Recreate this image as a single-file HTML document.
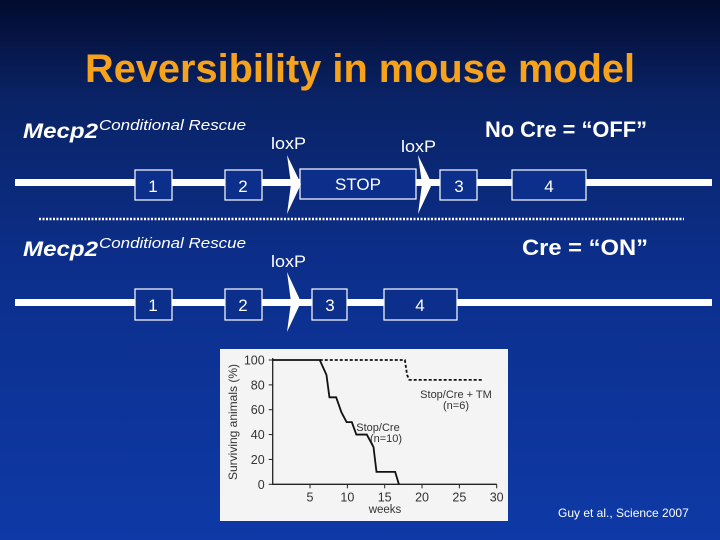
<!DOCTYPE html>
<html><head><meta charset="utf-8"><style>
html,body{margin:0;padding:0;}
body{width:720px;height:540px;overflow:hidden;}
svg{display:block;font-family:"Liberation Sans",Arial,sans-serif;}
</style></head><body>
<svg id="slide" width="720" height="540" viewBox="0 0 720 540" xmlns="http://www.w3.org/2000/svg">
<defs>
<linearGradient id="bg" x1="0" y1="0" x2="0" y2="1">
<stop offset="0" stop-color="#020b2e"/><stop offset="0.18" stop-color="#0a2366"/><stop offset="0.5" stop-color="#0c2f8c"/><stop offset="1" stop-color="#0e39a6"/>
</linearGradient>
</defs>
<rect x="0" y="0" width="720" height="540" fill="url(#bg)"/>
<text x="85" y="82" font-size="40" font-weight="bold" fill="#f7a21b" textLength="550" lengthAdjust="spacingAndGlyphs">Reversibility in mouse model</text>

<g fill="#fff">
<text x="23" y="138" font-size="21" font-style="italic" font-weight="bold" textLength="75" lengthAdjust="spacingAndGlyphs">Mecp2</text>
<text x="99" y="130" font-size="15" font-style="italic" textLength="147" lengthAdjust="spacingAndGlyphs">Conditional Rescue</text>
<text x="485" y="137" font-size="22" font-weight="bold" textLength="162" lengthAdjust="spacingAndGlyphs">No Cre = “OFF”</text>
<text x="271" y="149" font-size="17" textLength="35" lengthAdjust="spacingAndGlyphs">loxP</text>
<text x="401" y="152" font-size="17" textLength="35" lengthAdjust="spacingAndGlyphs">loxP</text>
<rect x="15" y="179" width="697" height="7"/>
<g fill="#0c2f8c" stroke="#fff" stroke-width="1.2">
<rect x="135" y="170" width="37" height="30"/>
<rect x="225" y="170" width="37" height="30"/>
<rect x="300" y="169" width="116" height="30"/>
<rect x="440" y="170" width="37" height="30"/>
<rect x="512" y="170" width="74" height="30"/>
</g>
<polygon points="287,155 301,184 287,214 291,184"/>
<polygon points="418,155 432,184 418,214 422,184"/>
<text x="153" y="192" font-size="17" text-anchor="middle">1</text>
<text x="243" y="192" font-size="17" text-anchor="middle">2</text>
<text x="358" y="190" font-size="17" text-anchor="middle">STOP</text>
<text x="459" y="192" font-size="17" text-anchor="middle">3</text>
<text x="549" y="192" font-size="17" text-anchor="middle">4</text>
</g>
<line x1="39" y1="219" x2="684" y2="219" stroke="#fff" stroke-width="2.5" stroke-dasharray="2,1.5"/>

<g fill="#fff">
<text x="23" y="256" font-size="21" font-style="italic" font-weight="bold" textLength="75" lengthAdjust="spacingAndGlyphs">Mecp2</text>
<text x="99" y="248" font-size="15" font-style="italic" textLength="147" lengthAdjust="spacingAndGlyphs">Conditional Rescue</text>
<text x="522" y="255" font-size="22" font-weight="bold" textLength="126" lengthAdjust="spacingAndGlyphs">Cre = “ON”</text>
<text x="271" y="267" font-size="17" textLength="35" lengthAdjust="spacingAndGlyphs">loxP</text>
<rect x="15" y="299" width="697" height="7"/>
<g fill="#0c2f8c" stroke="#fff" stroke-width="1.2">
<rect x="135" y="289" width="37" height="31"/>
<rect x="225" y="289" width="37" height="31"/>
<rect x="312" y="289" width="35" height="31"/>
<rect x="384" y="289" width="73" height="31"/>
</g>
<polygon points="287,272 301,302 287,332 291,302"/>
<text x="153" y="311" font-size="17" text-anchor="middle">1</text>
<text x="243" y="311" font-size="17" text-anchor="middle">2</text>
<text x="330" y="311" font-size="17" text-anchor="middle">3</text>
<text x="420" y="311" font-size="17" text-anchor="middle">4</text>
</g>

<g id="chart">
<rect x="220" y="349" width="288" height="172" fill="#f4f4f4"/>
</g>
<text x="558" y="517" font-size="12" fill="#fff">Guy et al., Science 2007</text>
</svg>
<script>
const xTicks=[5,10,15,20,25,30];
const yTicks=[0,20,40,60,80,100];
const stopCreWeeks=[0,6.3,7.2,7.6,8.5,9.2,9.9,10.6,11.2,12.6,13.5,13.9,16.4,16.9];
const stopCreSurv=[100,100,88,70,70,58,50,50,40,40,30,10,10,0];
const tmWeeks=[6.3,17.7,18.0,18.3,28.2];
const tmSurv=[100,100,88,84,84];
const NS='http://www.w3.org/2000/svg';
const g=document.getElementById('chart');
const X0=272.7,X1=496.7,Y0=484.3,Y1=360;
const sx=w=>X0+(w/30)*(X1-X0);
const sy=v=>Y0-(v/100)*(Y0-Y1);
function mk(tag,attrs){const e=document.createElementNS(NS,tag);for(const k in attrs)e.setAttribute(k,attrs[k]);g.appendChild(e);return e;}
const ax=mk('path',{d:`M${X0},${Y1-2}V${Y0}H${X1}`,stroke:'#222',fill:'none','stroke-width':1.3});


yTicks.forEach(v=>{
 const t=mk('line',{x1:X0-4,x2:X0,y1:sy(v),y2:sy(v),stroke:'#222'});
 
 
 const l=mk('text',{x:X0-8,y:sy(v)+4.5,'font-size':12.5,'text-anchor':'end',fill:'#333'});
 
 
 l.textContent=v;
});
xTicks.forEach(v=>{
 const t=mk('line',{x1:sx(v),x2:sx(v),y1:Y0,y2:Y0+4,stroke:'#222'});
 
 
 const l=mk('text',{x:sx(v),y:Y0+17,'font-size':12.5,'text-anchor':'middle',fill:'#333'});
 
 
 l.textContent=v;
});
const xt=mk('text',{x:385,y:513,'font-size':11.5,'text-anchor':'middle',fill:'#333'});


xt.textContent='weeks';
const yt=mk('text',{x:0,y:0,'font-size':12,'text-anchor':'middle',fill:'#333',transform:'translate(237,422) rotate(-90)'});


yt.textContent='Surviving animals (%)';
const pts=(ws,vs)=>ws.map((w,i)=>sx(w)+','+sy(vs[i])).join(' ');
const s1=mk('polyline',{points:pts(stopCreWeeks,stopCreSurv),fill:'none',stroke:'#111','stroke-width':1.8});


const s2=mk('polyline',{points:pts(tmWeeks,tmSurv),fill:'none',stroke:'#111','stroke-width':1.8,'stroke-dasharray':'3,2'});


[['Stop/Cre + TM',456,398,'label-stop-cre-tm'],['(n=6)',456,409,'label-n6'],['Stop/Cre',378,431,'label-stop-cre'],['(n=10)',386,442,'label-n10']].forEach(a=>{
 const l=mk('text',{x:a[1],y:a[2],'font-size':11,'text-anchor':'middle',fill:'#333'});
 
 
 l.textContent=a[0];
});
</script>
</body></html>
